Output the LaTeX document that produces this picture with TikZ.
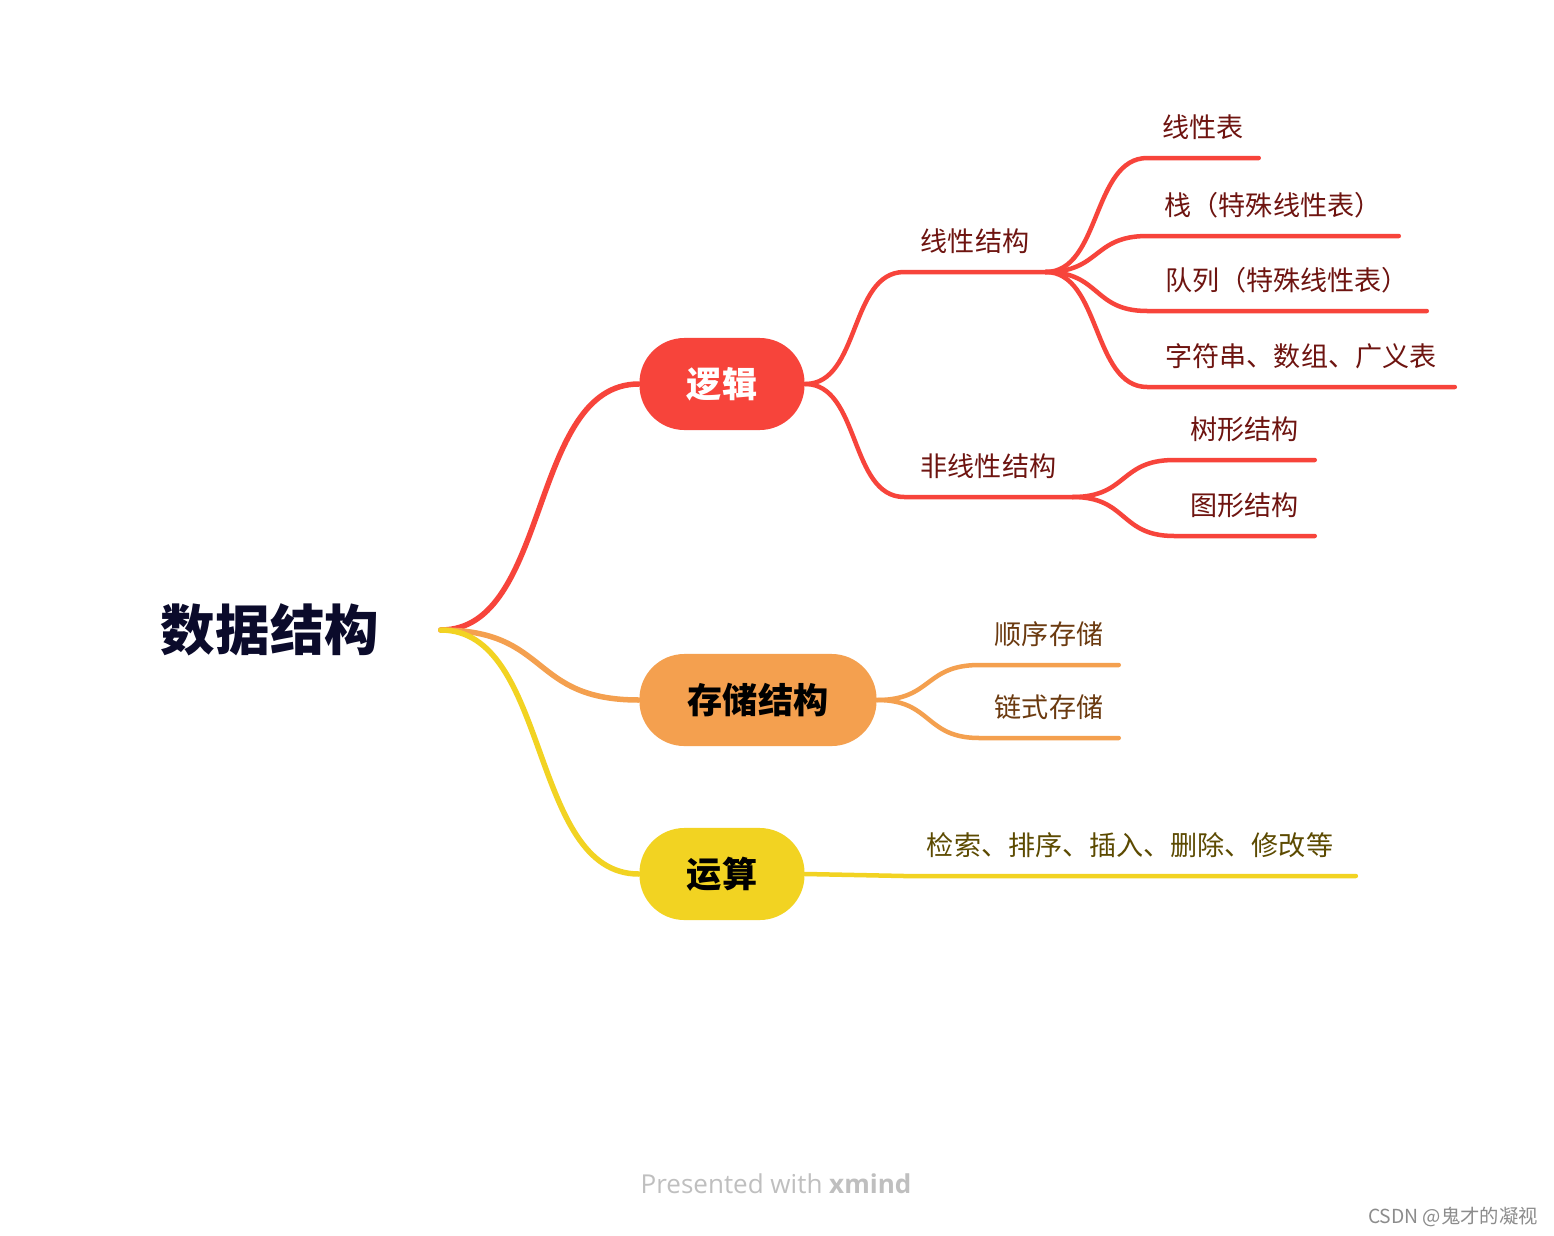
\documentclass[tikz,border=0pt]{standalone}
\usepackage{fontspec}
\newfontfamily\cjk{Noto Sans CJK SC}
\setsansfont{Open Sans}
\definecolor{cRed}{HTML}{F7443B}
\definecolor{cOrange}{HTML}{F4A04F}
\definecolor{cYellow}{HTML}{F2D322}
\definecolor{cRoot}{HTML}{0B0B2B}
\definecolor{tRed}{HTML}{6E1410}
\definecolor{tOrange}{HTML}{6B3A10}
\definecolor{tYellow}{HTML}{5C4A00}
\begin{document}
\begin{tikzpicture}[x=0.01cm,y=-0.01cm,
  pill/.style={rounded corners=0.45cm, minimum height=0.92cm, inner sep=0pt,
    font=\cjk\bfseries\fontsize{10}{12}\selectfont},
  leaf/.style={minimum height=0.60cm, inner sep=0pt, anchor=south,
    font=\cjk\fontsize{7.7}{9}\selectfont},
  mainline/.style={line width=0.055cm, line cap=round},
  subline/.style={line width=0.045cm, line cap=round},
]
\useasboundingbox (0,0) rectangle (1554,1236);
\fill[white] (0,0) rectangle (1554,1236);

% root
\node[font=\cjk\bfseries\fontsize{15.5}{18}\selectfont, text=cRoot, minimum width=3.4cm, inner sep=0pt] (root) at (270,630) {数据结构};

% main nodes
\node[pill, fill=cRed, text=white, minimum width=1.65cm] (logic) at (722,384) {逻辑};
\node[pill, fill=cOrange, text=black, minimum width=2.37cm] (store) at (758,700) {存储结构};
\node[pill, fill=cYellow, text=black, minimum width=1.65cm] (op) at (722,874) {运算};

% level 2 labels
\node[leaf, text=tRed, minimum width=1.40cm] (ls) at (975,272) {线性结构};
\node[leaf, text=tRed, minimum width=1.67cm] (nls) at (988.5,497) {非线性结构};
\node[leaf, text=tOrange, minimum width=1.38cm] (s1) at (1049,665) {顺序存储};
\node[leaf, text=tOrange, minimum width=1.38cm] (s2) at (1049,738) {链式存储};
\node[leaf, text=tYellow, minimum width=4.50cm] (o1) at (1130,876) {检索、排序、插入、删除、修改等};

% level 3 labels
\node[leaf, text=tRed, minimum width=1.10cm] (a1) at (1203,158) {线性表};
\node[leaf, text=tRed, minimum width=2.50cm] (a2) at (1273,236) {栈（特殊线性表）};
\node[leaf, text=tRed, minimum width=2.78cm] (a3) at (1287,311) {队列（特殊线性表）};
\node[leaf, text=tRed, minimum width=3.06cm] (a4) at (1301,387) {字符串、数组、广义表};
\node[leaf, text=tRed, minimum width=1.39cm] (b1) at (1244.5,460) {树形结构};
\node[leaf, text=tRed, minimum width=1.39cm] (b2) at (1244.5,536) {图形结构};

% connectors from root
\draw[mainline, cRed] (root.east) .. controls +(110,0) and +(-110,0) .. (logic.west);
\draw[mainline, cOrange] (root.east) .. controls +(110,0) and +(-110,0) .. (store.west);
\draw[mainline, cYellow] (root.east) .. controls +(110,0) and +(-110,0) .. (op.west);

% level 2 connectors
\draw[subline, cRed] (logic.east) .. controls +(55,0) and +(-55,0) .. (ls.south west) -- (ls.south east);
\draw[subline, cRed] (logic.east) .. controls +(55,0) and +(-55,0) .. (nls.south west) -- (nls.south east);
\draw[subline, cOrange] (store.east) .. controls +(55,0) and +(-55,0) .. (s1.south west) -- (s1.south east);
\draw[subline, cOrange] (store.east) .. controls +(55,0) and +(-55,0) .. (s2.south west) -- (s2.south east);
\draw[subline, cYellow] (op.east) -- (o1.south west) -- (o1.south east);

% level 3 connectors
\foreach \n in {a1,a2,a3,a4}
  \draw[subline, cRed] (ls.south east) .. controls +(55,0) and +(-55,0) .. (\n.south west) -- (\n.south east);
\foreach \n in {b1,b2}
  \draw[subline, cRed] (nls.south east) .. controls +(55,0) and +(-55,0) .. (\n.south west) -- (\n.south east);

% footer
\node[font=\sffamily\fontsize{7.4}{9}\selectfont, text=black!25] (foot) at (776,1184) {Presented with \textbf{xmind}};
\node[font=\cjk\fontsize{5.5}{7}\selectfont, text=black!45] (mark) at (1453,1217) {CSDN @鬼才的凝视};
\end{tikzpicture}
\end{document}
